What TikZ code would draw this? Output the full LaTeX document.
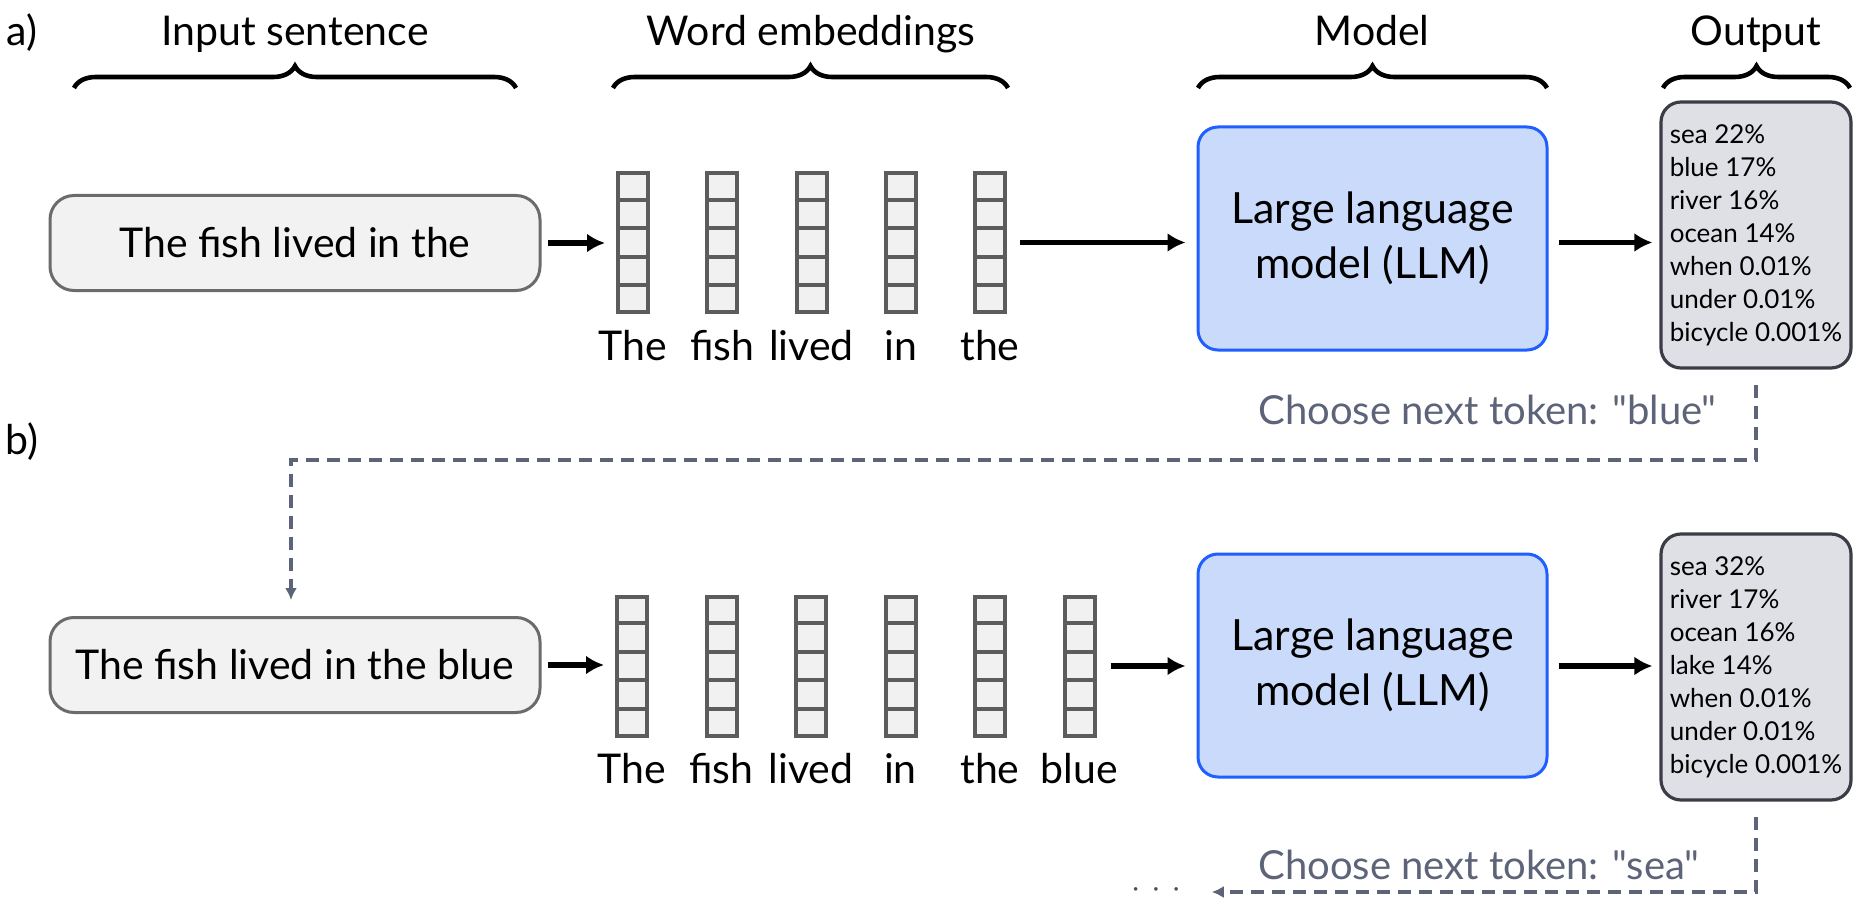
\documentclass[tikz,border=0pt]{standalone}
\usepackage{fontspec}
\setmainfont{Lato}
\newfontfamily\plainlato{Lato}
\usetikzlibrary{arrows.meta,decorations.pathreplacing,calc}
\definecolor{sentfill}{HTML}{F2F2F2}
\definecolor{sentdraw}{HTML}{6B6B6B}
\definecolor{embfill}{HTML}{F1F1F1}
\definecolor{embdraw}{HTML}{5C5C5C}
\definecolor{llmfill}{HTML}{C9DAFA}
\definecolor{llmdraw}{HTML}{1F5FFF}
\definecolor{outfill}{HTML}{DFE0E5}
\definecolor{outdraw}{HTML}{3A3D45}
\definecolor{dashcol}{HTML}{5D6378}
\begin{document}
\begin{tikzpicture}[x=0.5pt,y=-0.5pt,
  sent/.style={draw=sentdraw, fill=sentfill, line width=1.5pt, rounded corners=12pt,
    minimum width=245pt, minimum height=47.5pt, inner sep=0pt, font=\fontsize{20.5}{24}\selectfont},
  emb/.style={draw=embdraw, fill=embfill, line width=2pt, minimum width=15pt,
    minimum height=69.5pt, inner sep=0pt},
  word/.style={font=\fontsize{20.5}{24}\selectfont, inner sep=0pt, anchor=base},
  head/.style={font=\fontsize{20.5}{24}\selectfont, inner sep=0pt, anchor=base},
  llm/.style={draw=llmdraw, fill=llmfill, line width=1.5pt, rounded corners=10pt,
    minimum width=174.5pt, minimum height=111.5pt, align=center,
    font=\fontsize{21.5}{27.5}\selectfont},
  outbox/.style={draw=outdraw, fill=outfill, line width=1.6pt, rounded corners=10pt,
    minimum width=95pt, minimum height=133pt, align=left, inner sep=0pt,
    font=\fontsize{13}{16.5}\selectfont},
  arr/.style={-{Latex[length=9pt,width=9.5pt]}, line width=2.9pt},
  dasharr/.style={draw=dashcol, line width=1.6pt, dash pattern=on 6.5pt off 4pt,
    -{Latex[length=6pt,width=6pt]}},
  choose/.style={text=dashcol, font=\plainlato\fontsize{20}{24}\selectfont, anchor=base west, inner sep=0pt},
  brc/.style={decorate, decoration={brace, amplitude=11pt}, line width=2.3pt},
  panel/.style={font=\fontsize{20.5}{24}\selectfont, inner sep=0pt, anchor=base}
]
\useasboundingbox (0,0) rectangle (1870,915);

% panel labels
\node[panel] (la) at (22,46) {a)};
\node[panel] (lb) at (22,454) {b)};

% headers and braces
\node[head] (hIn) at (295,46) {Input sentence};
\node[head] (hEmb) at (811,46) {Word embeddings};
\node[head] (hMod) at (1372,46) {Model};
\node[head] (hOut) at (1756,46) {Output};
\draw[brc] (74,88) -- (516,88);
\draw[brc] (613,88) -- (1008,88);
\draw[brc] (1198,88) -- (1547,88);
\draw[brc] (1663,88) -- (1850,88);

% ---------------- panel a ----------------
\node[sent] (inA) at (295,243) {The fish lived in the};
\foreach \i/\w in {1/The,2/fish,3/lived,4/in,5/the}{
  \node[emb] (cA\i) at ({633+89.25*(\i-1)},242.5) {};
  \foreach \k in {1,...,4}
    \draw[embdraw, line width=2pt] ($(cA\i.north west)!\k/5!(cA\i.south west)$) -- ($(cA\i.north east)!\k/5!(cA\i.south east)$);
  \node[word] (wA\i) at ($(cA\i.south)+(0,46)$) {\w};
}
\node[llm] (llmA) at (1372.5,238.5) {Large language\\model (LLM)};
\node[outbox] (outA) at (1756,235) {sea 22\%\\blue 17\%\\river 16\%\\ocean 14\%\\when 0.01\%\\under 0.01\%\\bicycle 0.001\%};

\draw[arr, shorten <=3pt, shorten >=5.5pt] (inA.east) -- (inA.east -| cA1.west);
\draw[arr, shorten <=6.5pt, shorten >=5.5pt] (cA5.east) -- (cA5.east -| llmA.west);
\draw[arr, shorten <=5pt, shorten >=3.5pt] (llmA.east |- cA5.east) -- (outA.west |- cA5.east);

% dashed return a -> b
\coordinate (tA) at (291,460);
\node[choose] (chA) at (1258,424) {Choose next token: "blue"};

% ---------------- panel b ----------------
\node[sent] (inB) at (295,665) {The fish lived in the blue};
\foreach \i/\w in {1/The,2/fish,3/lived,4/in,5/the,6/blue}{
  \node[emb] (cB\i) at ({632+89.5*(\i-1)},666) {};
  \foreach \k in {1,...,4}
    \draw[embdraw, line width=2pt] ($(cB\i.north west)!\k/5!(cB\i.south west)$) -- ($(cB\i.north east)!\k/5!(cB\i.south east)$);
  \node[word] (wB\i) at ($(cB\i.south)+(0,46)$) {\w};
}
\node[llm] (llmB) at (1372.5,665.5) {Large language\\model (LLM)};
\node[outbox] (outB) at (1756,667) {sea 32\%\\river 17\%\\ocean 16\%\\lake 14\%\\when 0.01\%\\under 0.01\%\\bicycle 0.001\%};

\draw[arr, shorten <=3pt, shorten >=5.5pt] (inB.east) -- (inB.east -| cB1.west);
\draw[arr, shorten <=7pt, shorten >=5.5pt] (cB6.east) -- (cB6.east -| llmB.west);
\draw[arr, shorten <=5pt, shorten >=3.5pt] (llmB.east |- cB6.east) -- (outB.west |- cB6.east);

\draw[dasharr, shorten <=7.5pt, shorten >=8pt] (outA.south) -- (outA.south |- tA) -- (tA) -- (tA |- inB.north);

\node[inner sep=0pt, text=dashcol!80!black, font=\fontsize{12}{14}\selectfont] (dots) at (1156,892) {·\hspace{7pt}·\hspace{7pt}·};
\coordinate (tB) at (1756,892);
\node[choose] (chB) at (1258,879) {Choose next token: "sea"};
\draw[dasharr, shorten <=7.5pt, shorten >=16pt] (outB.south) -- (outB.south |- tB) -- (dots.east);
\end{tikzpicture}
\end{document}
